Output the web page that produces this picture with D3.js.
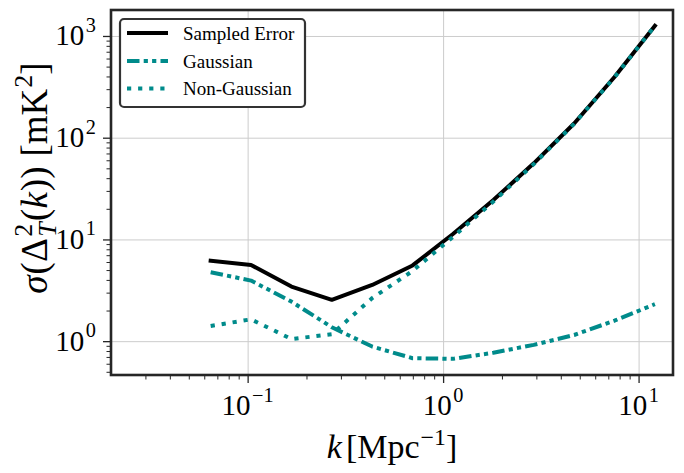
<!DOCTYPE html>
<html>
<head>
<meta charset="utf-8">
<script src="https://cdn.jsdelivr.net/npm/d3@7"></script>
<style>
  html, body { margin: 0; padding: 0; background: #ffffff; }
  svg { display: block; }
  text { font-family: "Liberation Serif", "DejaVu Serif", serif; fill: #000; }
</style>
</head>
<body>
<svg id="chart" width="684" height="473"></svg>
<script>
// ---- data ----
const kValues      = [0.0647, 0.1041, 0.1675, 0.2696, 0.4338, 0.698, 1.123, 1.808, 2.909, 4.68, 7.53, 12.12];
const sampledError = [6.19, 5.61, 3.44, 2.55, 3.57, 5.55, 11.3, 24.4, 56, 138, 395, 1260];
const gaussian     = [4.76, 3.94, 2.45, 1.37, 0.885, 0.68, 0.67, 0.77, 0.92, 1.15, 1.59, 2.31];
const nonGaussian  = [1.41, 1.64, 1.05, 1.17, 2.65, 4.9, 10.6, 23.6, 55, 137, 393, 1257];
const seriesNames  = ["Sampled Error", "Gaussian", "Non-Gaussian"];
const xMajorExps   = [-1, 0, 1];
const yMajorExps   = [0, 1, 2, 3];

// ---- layout ----
const W = 684, H = 473;
const L = 111, R = 673, T = 10, B = 375;
const svg = d3.select("#chart");
svg.append("rect").attr("width", W).attr("height", H).attr("fill", "#fff");

const x = d3.scaleLog().domain([0.02, 15]).range([L, R]);
const y = d3.scaleLog().domain([0.465, 1800]).range([B, T]);

const xMajor = xMajorExps.map(e => Math.pow(10, e));
const yMajor = yMajorExps.map(e => Math.pow(10, e));
function minors(scale) {
  const [a, b] = scale.domain();
  const out = [];
  for (let e = Math.floor(Math.log10(a)); e <= Math.ceil(Math.log10(b)); e++) {
    for (let m = 2; m <= 9; m++) {
      const v = m * Math.pow(10, e);
      if (v > a * 1.0001 && v < b) out.push(v);
    }
  }
  return out;
}

// ---- grid ----
const grid = svg.append("g");
grid.append("g").attr("transform", `translate(0,${B})`)
  .call(d3.axisBottom(x).tickValues(xMajor).tickSize(-(B - T)).tickFormat(""))
  .call(g => g.select(".domain").remove())
  .call(g => g.selectAll("line").attr("stroke", "#cccccc").attr("stroke-width", 1));
grid.append("g").attr("transform", `translate(${L},0)`)
  .call(d3.axisLeft(y).tickValues(yMajor).tickSize(-(R - L)).tickFormat(""))
  .call(g => g.select(".domain").remove())
  .call(g => g.selectAll("line").attr("stroke", "#cccccc").attr("stroke-width", 1));

// ---- lines ----
const line = d3.line().x(d => x(d[0])).y(d => y(d[1]));
const teal = "#008b8b";
const styles = [
  { vals: sampledError, color: "#000000", dash: null, cap: "square" },
  { vals: gaussian,     color: teal,      dash: "12.5,4.2,4.2,4.2,4.2,4.2", cap: "butt" },
  { vals: nonGaussian,  color: teal,      dash: "4.2,6.9", cap: "butt" }
];
const plot = svg.append("g");
[0, 1, 2].forEach(i => {
  const s = styles[i];
  plot.append("path")
    .datum(kValues.map((k, j) => [k, s.vals[j]]))
    .attr("d", line)
    .attr("fill", "none")
    .attr("stroke", s.color)
    .attr("stroke-width", 4)
    .attr("stroke-linejoin", "round")
    .attr("stroke-linecap", s.cap)
    .attr("stroke-dasharray", s.dash);
});

// ---- axes ticks ----
const axisColor = "#262626";
const xAx = svg.append("g").attr("transform", `translate(0,${B})`);
xAx.append("g").call(d3.axisBottom(x).tickValues(minors(x)).tickSize(4.5).tickFormat(""))
  .call(g => g.select(".domain").remove())
  .call(g => g.selectAll("line").attr("stroke", axisColor).attr("stroke-width", 1));
xAx.append("g").call(d3.axisBottom(x).tickValues(xMajor).tickSize(8).tickFormat(""))
  .call(g => g.select(".domain").remove())
  .call(g => g.selectAll("line").attr("stroke", axisColor).attr("stroke-width", 1.3));

const yAx = svg.append("g").attr("transform", `translate(${L},0)`);
yAx.append("g").call(d3.axisLeft(y).tickValues(minors(y)).tickSize(4.5).tickFormat(""))
  .call(g => g.select(".domain").remove())
  .call(g => g.selectAll("line").attr("stroke", axisColor).attr("stroke-width", 1));
yAx.append("g").call(d3.axisLeft(y).tickValues(yMajor).tickSize(8).tickFormat(""))
  .call(g => g.select(".domain").remove())
  .call(g => g.selectAll("line").attr("stroke", axisColor).attr("stroke-width", 1.3));

// ---- tick labels ----
const tickFont = 29;
function powLabel(sel, exp) {
  sel.append("tspan").text("10");
  sel.append("tspan").attr("font-size", tickFont * 0.7).attr("dx", 1.5).attr("dy", -13.5)
     .text(exp < 0 ? "\u2212" + Math.abs(exp) : String(exp));
}
xMajorExps.forEach(e => {
  const t = svg.append("text").attr("x", x(Math.pow(10, e))).attr("y", 415)
    .attr("text-anchor", "middle").attr("font-size", tickFont);
  powLabel(t, e);
});
yMajorExps.forEach(e => {
  const t = svg.append("text").attr("x", 96).attr("y", y(Math.pow(10, e)) + 9.5)
    .attr("text-anchor", "end").attr("font-size", tickFont);
  powLabel(t, e);
});

// ---- frame ----
svg.append("rect").attr("x", L).attr("y", T).attr("width", R - L).attr("height", B - T)
  .attr("fill", "none").attr("stroke", axisColor).attr("stroke-width", 2.6);

// ---- axis labels ----
const xlFont = 34;
const xl = svg.append("text").attr("x", (L + R) / 2).attr("y", 458)
  .attr("text-anchor", "middle").attr("font-size", xlFont);
xl.append("tspan").attr("font-style", "italic").text("k");
xl.append("tspan").attr("dx", 4).text("[Mpc");
xl.append("tspan").attr("font-size", xlFont * 0.7).attr("dx", 1).attr("dy", -13).text("\u22121");
xl.append("tspan").attr("dy", 13).text("]");

const ylFont = 37;
const yl = svg.append("text").attr("transform", `translate(47,178) rotate(-90)`)
  .attr("text-anchor", "middle").attr("font-size", ylFont);
yl.append("tspan").attr("font-style", "italic").text("\u03c3");
yl.append("tspan").attr("dx", 1).text("(\u0394");
yl.append("tspan").attr("font-size", ylFont * 0.7).attr("dx", 1.5).attr("dy", -15).text("2");
yl.append("tspan").attr("font-size", ylFont * 0.7).attr("font-style", "italic")
  .attr("dx", -13).attr("dy", 24).text("T");
yl.append("tspan").attr("dx", 1.5).attr("dy", -9).text("(");
yl.append("tspan").attr("font-style", "italic").text("k");
yl.append("tspan").attr("dx", 1).text("))");
yl.append("tspan").attr("dx", 10).text("[mK");
yl.append("tspan").attr("font-size", ylFont * 0.7).attr("dx", 1).attr("dy", -15).text("2");
yl.append("tspan").attr("dy", 15).text("]");

// ---- legend ----
const lg = svg.append("g");
lg.append("rect").attr("x", 120).attr("y", 19).attr("width", 185).attr("height", 88)
  .attr("rx", 4).attr("ry", 4).attr("fill", "#fff")
  .attr("stroke", "#333333").attr("stroke-width", 2.2);
const rowY = [33, 61, 88.5];
seriesNames.forEach((name, i) => {
  const s = styles[i];
  lg.append("line").attr("x1", 127).attr("x2", 168).attr("y1", rowY[i]).attr("y2", rowY[i])
    .attr("stroke", s.color).attr("stroke-width", 4)
    .attr("stroke-linecap", "butt")
    .attr("stroke-dasharray", s.dash);
  lg.append("text").attr("x", 183).attr("y", rowY[i] + 6.5).attr("font-size", 19)
    .text(name);
});
</script>
</body>
</html>
